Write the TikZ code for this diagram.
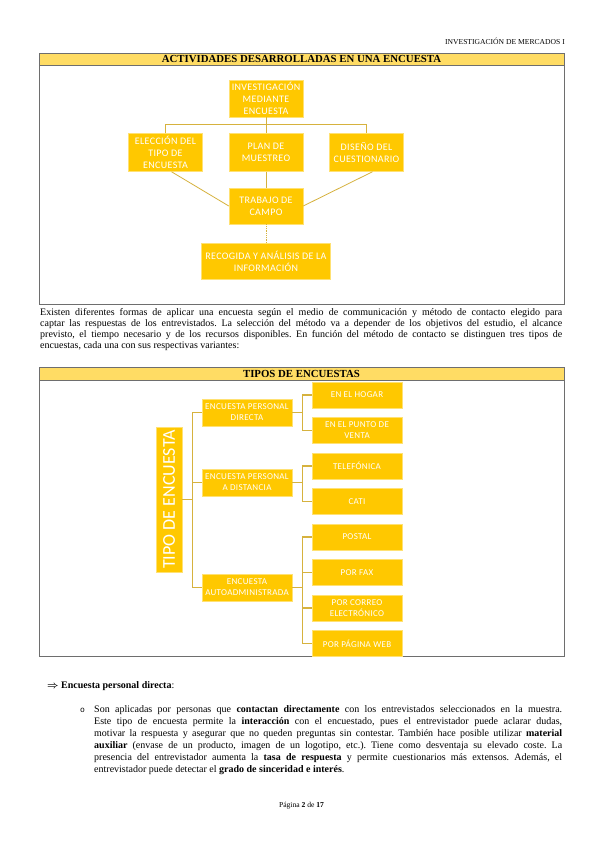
\documentclass[tikz,border=0pt]{standalone}
\usepackage{amsmath}
\usepackage{fontspec}
\setmainfont{Liberation Serif}
\newfontfamily\boxfont{Carlito}[LetterSpace=3.5]
\newfontfamily\rootfont{Carlito}
\newfontfamily\bulletfont{Liberation Mono}
\usetikzlibrary{positioning}
\frenchspacing

\definecolor{boxyellow}{RGB}{255,200,0}
\definecolor{baryellow}{RGB}{255,220,100}
\definecolor{linkgold}{RGB}{214,178,62}
\definecolor{framegray}{RGB}{110,110,110}

\begin{document}
\begin{tikzpicture}[x=1pt, y=-1pt, node distance=16pt,
  box/.style={fill=boxyellow, draw=boxyellow!55!white, line width=0.5pt,
    inner sep=0pt, align=center, text=white,
    font=\boxfont\fontsize{10}{12.3}\selectfont},
  actbox/.style={box, minimum width=74pt, minimum height=37pt},
  typebox/.style={box, minimum width=90pt, minimum height=27pt,
    font=\boxfont\fontsize{9}{11}\selectfont},
  optbox/.style={typebox, minimum height=26pt},
  link/.style={draw=linkgold, line width=0.8pt},
  tree/.style={draw=linkgold, line width=1.2pt},
  frame/.style={draw=framegray, line width=0.8pt},
  bar/.style={fill=baryellow, draw=framegray, line width=0.8pt},
  bartitle/.style={inner sep=0pt, font=\bfseries\fontsize{10.8}{12}\selectfont},
  body/.style={inner sep=0pt, align=justify, font=\fontsize{10}{11}\selectfont},
  small/.style={inner sep=0pt, font=\fontsize{7.6}{9}\selectfont}
]
\fill[white] (0,0) rectangle (603,848);
\useasboundingbox (0,0) rectangle (603,848);

% Page header
\node[small, anchor=base east] (header) at (565,45) {INVESTIGACIÓN DE MERCADOS I};

% Frame 1: activities of a survey
\draw[frame] (39,53) rectangle (564,304);
\draw[bar] (39,53) rectangle (564,65);
\node[bartitle] (title1) at (301.5,59.5) {ACTIVIDADES DESARROLLADAS EN UNA ENCUESTA};

\node[actbox] (inv) at (266,98.5) {INVESTIGACIÓN\\MEDIANTE\\ENCUESTA};
\node[actbox, below=of inv, minimum height=38pt] (plan) {PLAN DE\\MUESTREO};
\node[actbox, left=26pt of plan, minimum height=38pt] (elec) {ELECCIÓN DEL\\TIPO DE\\ENCUESTA};
\node[actbox, right=26pt of plan, minimum height=38pt] (dis) {DISEÑO DEL\\CUESTIONARIO};
\node[actbox, below=of plan, minimum height=36pt] (trab) {TRABAJO DE\\CAMPO};
\node[actbox, below=19pt of trab, minimum width=129pt, minimum height=36pt] (reco) {RECOGIDA Y ANÁLISIS DE LA\\INFORMACIÓN};

\draw[link] (inv.south) -- ++(0,7) coordinate (invfork);
\draw[link] (elec.north) |- (invfork) -| (dis.north);
\draw[link] (invfork) -- (plan.north);
\draw[link] ([xshift=6pt]elec.south) -- (trab.west);
\draw[link] (plan.south) -- (trab.north);
\draw[link] ([xshift=6pt]dis.south) -- (trab.east);
\draw[link, densely dotted] (trab.south) -- (reco.north);

% Intro paragraph
\node[body, text width=522pt, anchor=base west] (intro) at (40,315) {Existen diferentes formas de aplicar una encuesta según el medio de communicación y método de contacto elegido para\linebreak
captar las respuestas de los entrevistados. La selección del método va a depender de los objetivos del estudio, el alcance\linebreak
previsto, el tiempo necesario y de los recursos disponibles. En función del método de contacto se distinguen tres tipos de\linebreak
encuestas, cada una con sus respectivas variantes:};

% Frame 2: types of surveys
\draw[frame] (39,367) rectangle (564,656);
\draw[bar] (39,367) rectangle (564,380);
\node[bartitle] (title2) at (301.5,373.5) {TIPOS DE ENCUESTAS};

\node[box, minimum width=26pt, minimum height=145pt] (root) at (169,499.5) {};
\node[rotate=90, inner sep=0pt, text=white, font=\rootfont\fontsize{18}{20}\selectfont] (rootlabel) at (root.center) {TIPO DE ENCUESTA};

\node[typebox] (direct) at (247,412.5) {ENCUESTA PERSONAL\\DIRECTA};
\node[typebox] (remote) at (247,482.5) {ENCUESTA PERSONAL\\A DISTANCIA};
\node[typebox] (self) at (247,587.5) {ENCUESTA\\AUTOADMINISTRADA};

\node[optbox] (home) at (357,395) {EN EL HOGAR};
\node[optbox, below=9pt of home] (store) {EN EL PUNTO DE\\VENTA};
\node[optbox, below=9pt of store] (phone) {TELEFÓNICA};
\node[optbox, below=9pt of phone] (cati) {CATI};
\node[optbox, below=9pt of cati] (post) {POSTAL};
\node[optbox, below=9pt of post] (fax) {POR FAX};
\node[optbox, below=9pt of fax] (mail) {POR CORREO\\ELECTRÓNICO};
\node[optbox, below=9pt of mail] (web) {POR PÁGINA WEB};

\draw[tree] (root.east) -- ++(10,0) coordinate (rootfork);
\draw[tree] (rootfork) |- (direct.west);
\draw[tree] (rootfork) |- (remote.west);
\draw[tree] (rootfork) |- (self.west);

\draw[tree] (direct.east) -- ++(10,0) coordinate (directfork);
\draw[tree] (directfork) |- (home.west);
\draw[tree] (directfork) |- (store.west);

\draw[tree] (remote.east) -- ++(10,0) coordinate (remotefork);
\draw[tree] (remotefork) |- (phone.west);
\draw[tree] (remotefork) |- (cati.west);

\draw[tree] (self.east) -- ++(10,0) coordinate (selffork);
\draw[tree] (selffork) |- (post.west);
\draw[tree] (selffork) |- (fax.west);
\draw[tree] (selffork) |- (mail.west);
\draw[tree] (selffork) |- (web.west);

% Direct personal survey
\node[inner sep=0pt, anchor=base west, font=\fontsize{10}{12}\selectfont] (dirhead) at (47,688) {$\boldsymbol{\Rightarrow}$ \textbf{Encuesta personal directa}:};
\node[inner sep=0pt, anchor=base west, font=\bulletfont\fontsize{8}{10}\selectfont] (dirbullet) at (80,712) {o};
\node[body, text width=468pt, anchor=base west, font=\fontsize{10}{12}\selectfont] (dirtext) at (94,712) {Son aplicadas por personas que \textbf{contactan directamente} con los entrevistados seleccionados en la muestra.\linebreak
Este tipo de encuesta permite la \textbf{interacción} con el encuestado, pues el entrevistador puede aclarar dudas,\linebreak
motivar la respuesta y asegurar que no queden preguntas sin contestar. También hace posible utilizar \textbf{material}\linebreak
\textbf{auxiliar} (envase de un producto, imagen de un logotipo, etc.). Tiene como desventaja su elevado coste. La\linebreak
presencia del entrevistador aumenta la \textbf{tasa de respuesta} y permite cuestionarios más extensos. Además, el\linebreak
entrevistador puede detectar el \textbf{grado de sinceridad e interés}.};

% Page footer
\node[small, anchor=base] (footer) at (301.5,807) {Página \textbf{2} de \textbf{17}};
\end{tikzpicture}
\end{document}
